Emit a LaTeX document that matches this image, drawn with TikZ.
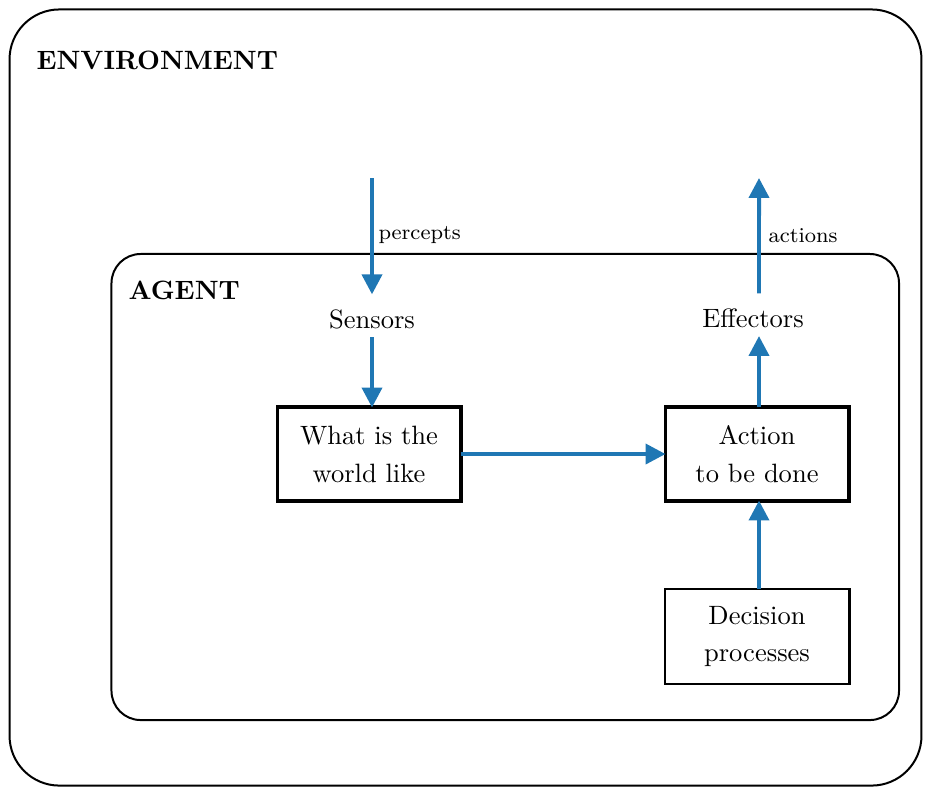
\documentclass[tikz,border=0pt]{standalone}
\usetikzlibrary{arrows.meta}
\definecolor{flowblue}{RGB}{31,119,180}
\begin{document}
\begin{tikzpicture}[x=0.377pt,y=-0.377pt,
  region/.style={draw=black,line width=0.75pt,fill=none,inner sep=0pt,outer sep=0pt},
  titlelab/.style={font=\bfseries,inner sep=0pt,anchor=base west},
  thickbox/.style={draw=black,line width=1.5pt,minimum width=69pt,minimum height=35.1pt,inner sep=0pt,outer sep=0pt,align=center,font=\fontsize{10}{14.3}\selectfont},
  thinbox/.style={draw=black,line width=0.8pt,minimum width=69.7pt,minimum height=35.8pt,inner sep=0pt,outer sep=0pt,align=center,font=\fontsize{10}{14.3}\selectfont},
  plainlab/.style={inner xsep=2pt,inner ysep=0pt,text height=12.5pt,text depth=3.2pt,anchor=base},
  edgelab/.style={font=\footnotesize,inner sep=0pt,anchor=base west},
  flow/.style={draw=flowblue,line width=1.5pt,-{Triangle[length=7.5pt,width=7.5pt]}}
]
\path[use as bounding box] (0,0) rectangle (925,788);

\node[region,rounded corners=18.8pt,minimum width=343.8pt,minimum height=292.6pt] (env) at (465.5,397.5) {};
\node[region,rounded corners=11pt,minimum width=296.9pt,minimum height=175.7pt] (agent) at (505.25,487) {};

\node[titlelab] (envlab) at (36,69) {ENVIRONMENT};
\node[titlelab] (agentlab) at (128,299) {AGENT};

\node[plainlab] (sens) at (372,328) {Sensors};
\node[plainlab] (eff) at (753,327) {Effectors};

\node[thickbox] (what) at (369,454) {What is the\\world like};
\node[thickbox] (action) at (757,454) {Action\\to be done};
\node[thinbox] (dec) at (757,636.5) {Decision\\processes};

\coordinate (ptop) at (372,178);
\coordinate (atop) at (759,178);
\coordinate (effbot) at ([xshift=2.26pt]eff.south);
\coordinate (efftop) at ([xshift=2.26pt]eff.north);

\draw[flow] (ptop) -- (sens.north);
\node[edgelab] (plab) at (378,239) {percepts};
\draw[flow] (sens.south) -- (sens.south |- what.north);
\draw[flow] (what.east) -- (action.west);
\draw[flow] (effbot |- action.north) -- (effbot);
\draw[flow] (efftop) -- (atop);
\node[edgelab] (alab) at (768,242) {actions};
\draw[flow] (effbot |- dec.north) -- (effbot |- action.south);
\end{tikzpicture}
\end{document}
